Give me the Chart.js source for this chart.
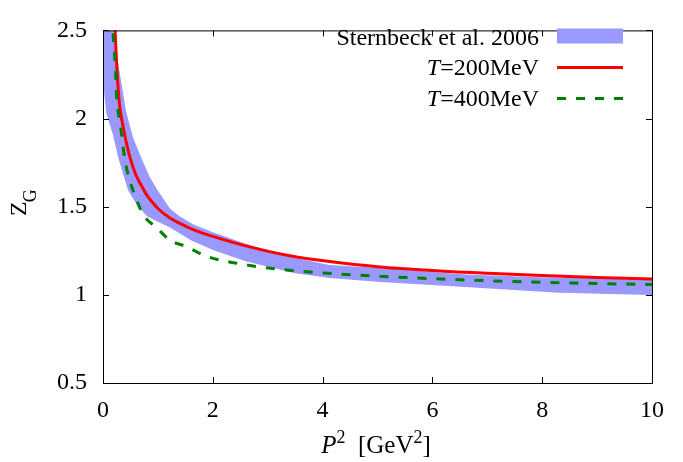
<!DOCTYPE html>
<html>
<head>
<meta charset="utf-8">
<script src="https://cdn.jsdelivr.net/npm/chart.js@4.4.0/dist/chart.umd.min.js"></script>
<style>
  html, body { margin: 0; padding: 0; background: #fff; }
  #wrap { width: 683px; height: 462px; }
</style>
</head>
<body>
<div id="wrap"><canvas id="c" width="683" height="462"></canvas></div>
<script>
// ---- data ----
const xTicks = [0, 2, 4, 6, 8, 10];
const yTicks = [0.5, 1, 1.5, 2, 2.5];
const yTickLabels = ['0.5', '1', '1.5', '2', '2.5'];

// Sternbeck et al. 2006 band: upper (right/top) edge and lower (left/bottom) edge
const bandUpperX = [0.18, 0.31, 0.42, 0.55, 0.70, 0.85, 1.0, 1.22, 1.4, 1.64, 2.0, 2.6, 3.4, 4.13, 5.05, 6.6, 8.0, 10];
const bandUpperY = [2.5, 2.25, 2.04, 1.89, 1.775, 1.67, 1.59, 1.49, 1.445, 1.40, 1.355, 1.29, 1.215, 1.17, 1.152, 1.115, 1.10, 1.085];
const bandLowerX = [0.0, 0.0, 0.02, 0.06, 0.18, 0.28, 0.46, 0.62, 0.80, 1.0, 1.22, 1.6, 2.0, 2.6, 3.5, 4.13, 5.05, 6.6, 8.3, 10];
const bandLowerY = [2.5, 2.35, 2.15, 2.03, 1.91, 1.775, 1.59, 1.51, 1.446, 1.415, 1.382, 1.31, 1.255, 1.19, 1.122, 1.095, 1.073, 1.045, 1.012, 0.999];

// T = 200 MeV
const t200X = [0.15, 0.22, 0.25, 0.3, 0.35, 0.42, 0.5, 0.6, 0.7, 0.8, 0.9, 1.0, 1.2, 1.4, 1.6, 1.8, 2.0, 2.6, 3.4, 4.2, 5.0, 6.0, 7.0, 8.0, 9.0, 10];
const t200Y = [2.85, 2.5, 2.3, 2.08, 1.98, 1.87, 1.77, 1.68, 1.62, 1.565, 1.525, 1.49, 1.44, 1.405, 1.376, 1.352, 1.332, 1.278, 1.222, 1.186, 1.16, 1.138, 1.122, 1.11, 1.099, 1.09];

// T = 400 MeV
const t400X = [0.17, 0.18, 0.21, 0.23, 0.24, 0.27, 0.31, 0.4, 0.49, 0.58, 0.73, 0.98, 1.22, 1.52, 1.89, 2.55, 3.22, 4.1, 5.05, 6.0, 7.0, 8.3, 9.2, 10];
const t400Y = [2.7, 2.53, 2.366, 2.268, 2.168, 2.055, 1.976, 1.765, 1.647, 1.565, 1.456, 1.38, 1.31, 1.273, 1.218, 1.173, 1.145, 1.122, 1.105, 1.092, 1.08, 1.069, 1.063, 1.058];

const pts = (xs, ys) => xs.map((x, i) => ({ x, y: ys[i] }));

const bandPts = pts(bandUpperX, bandUpperY).concat(pts(bandLowerX, bandLowerY).reverse());

const SERIF = '"Liberation Serif", "DejaVu Serif", serif';
const BAND = 'rgb(153,153,255)';
const RED = '#ff0000';
const GREEN = '#008000';

// ---- frame + inward ticks + titles + legend ----
const frame = {
  id: 'frame',
  afterDraw(chart) {
    const { ctx, chartArea: a, scales: { x, y } } = chart;
    ctx.save();
    ctx.strokeStyle = '#000';
    ctx.lineWidth = 1;
    ctx.strokeRect(a.left + 0.5, a.top + 0.5, a.right - a.left, a.bottom - a.top);
    const L = 6;
    ctx.beginPath();
    xTicks.forEach(v => {
      const px = Math.round(x.getPixelForValue(v)) + 0.5;
      ctx.moveTo(px, a.bottom); ctx.lineTo(px, a.bottom - L);
      ctx.moveTo(px, a.top); ctx.lineTo(px, a.top + L);
    });
    yTicks.forEach(v => {
      const py = Math.round(y.getPixelForValue(v)) + 0.5;
      ctx.moveTo(a.left, py); ctx.lineTo(a.left + L, py);
      ctx.moveTo(a.right, py); ctx.lineTo(a.right - L, py);
    });
    ctx.stroke();

    ctx.fillStyle = '#000';
    ctx.textBaseline = 'alphabetic';
    ctx.textAlign = 'left';

    // y title Z_G (rotated)
    ctx.save();
    ctx.translate(26, 216);
    ctx.rotate(-Math.PI / 2);
    ctx.font = '24px ' + SERIF;
    ctx.fillText('Z', 0, 0);
    const zw = ctx.measureText('Z').width;
    ctx.font = '18px ' + SERIF;
    ctx.fillText('G', zw - 1, 10);
    ctx.restore();

    // x title P^2 [GeV^2]
    const parts = [
      { t: 'P', f: 'italic 25px ' + SERIF, dy: 0 },
      { t: '2', f: '18px ' + SERIF, dy: -10 },
      { t: '  [GeV', f: '25px ' + SERIF, dy: 0 },
      { t: '2', f: '18px ' + SERIF, dy: -10 },
      { t: ']', f: '25px ' + SERIF, dy: 0 }
    ];
    let tw = 0;
    parts.forEach(p => { ctx.font = p.f; p.w = ctx.measureText(p.t).width; tw += p.w; });
    let cx = 376 - tw / 2;
    parts.forEach(p => { ctx.font = p.f; ctx.fillText(p.t, cx, 453 + p.dy); cx += p.w; });

    // legend
    const textRight = 539, symL = 557, symR = 623;
    const baselines = [45, 75, 106];
    const symY = [36, 67.5, 98.5];
    chart.data.datasets.forEach((ds, i) => {
      ctx.textAlign = 'right';
      ctx.fillStyle = '#000';
      if (ds.legendItalic) {
        ctx.font = '24px ' + SERIF;
        ctx.fillText(ds.legendRest, textRight, baselines[i]);
        const rw = ctx.measureText(ds.legendRest).width;
        ctx.font = 'italic 24px ' + SERIF;
        ctx.fillText(ds.legendItalic, textRight - rw, baselines[i]);
      } else {
        ctx.font = '24px ' + SERIF;
        ctx.fillText(ds.label, textRight, baselines[i]);
      }
      const cy = symY[i];
      if (ds.fill) {
        ctx.fillStyle = ds.backgroundColor;
        ctx.fillRect(symL, cy - 7.5, symR - symL, 15);
      } else {
        ctx.strokeStyle = ds.borderColor;
        ctx.lineWidth = ds.borderWidth;
        ctx.setLineDash(ds.borderDash || []);
        ctx.beginPath();
        ctx.moveTo(symL, cy); ctx.lineTo(symR, cy);
        ctx.stroke();
        ctx.setLineDash([]);
      }
    });
    ctx.restore();
  }
};

new Chart(document.getElementById('c'), {
  type: 'scatter',
  data: {
    datasets: [
      {
        label: 'Sternbeck et al. 2006',
        data: bandPts,
        showLine: true,
        fill: 'shape',
        backgroundColor: BAND,
        borderColor: BAND,
        borderWidth: 0,
        pointRadius: 0,
        order: 3
      },
      {
        label: 'T=200MeV', legendItalic: 'T', legendRest: '=200MeV',
        data: pts(t200X, t200Y),
        showLine: true,
        fill: false,
        borderColor: RED,
        borderWidth: 3,
        pointRadius: 0,
        cubicInterpolationMode: 'monotone',
        order: 2
      },
      {
        label: 'T=400MeV', legendItalic: 'T', legendRest: '=400MeV',
        data: pts(t400X, t400Y),
        showLine: true,
        fill: false,
        borderColor: GREEN,
        borderWidth: 3,
        borderDash: [9, 10],
        pointRadius: 0,
        cubicInterpolationMode: 'monotone',
        order: 1
      }
    ]
  },
  options: {
    responsive: false,
    animation: false,
    devicePixelRatio: 1,
    layout: { padding: { left: 0, top: 18, right: 31, bottom: 0 } },
    plugins: { legend: { display: false }, tooltip: { enabled: false } },
    scales: {
      x: {
        type: 'linear', min: 0, max: 10,
        afterBuildTicks: s => { s.ticks = xTicks.map(v => ({ value: v })); },
        afterFit: s => { s.height = 79; },
        grid: { display: false, drawTicks: false },
        border: { display: false },
        ticks: { color: '#000', font: { family: SERIF, size: 24 }, padding: 13, maxRotation: 0 }
      },
      y: {
        type: 'linear', min: 0.5, max: 2.5,
        afterBuildTicks: s => { s.ticks = yTicks.map(v => ({ value: v })); },
        afterFit: s => { s.width = 103; },
        grid: { display: false, drawTicks: false },
        border: { display: false },
        ticks: {
          color: '#000', font: { family: SERIF, size: 24 }, padding: 16,
          callback: (v, i) => yTickLabels[i]
        }
      }
    }
  },
  plugins: [frame]
});
</script>
</body>
</html>
